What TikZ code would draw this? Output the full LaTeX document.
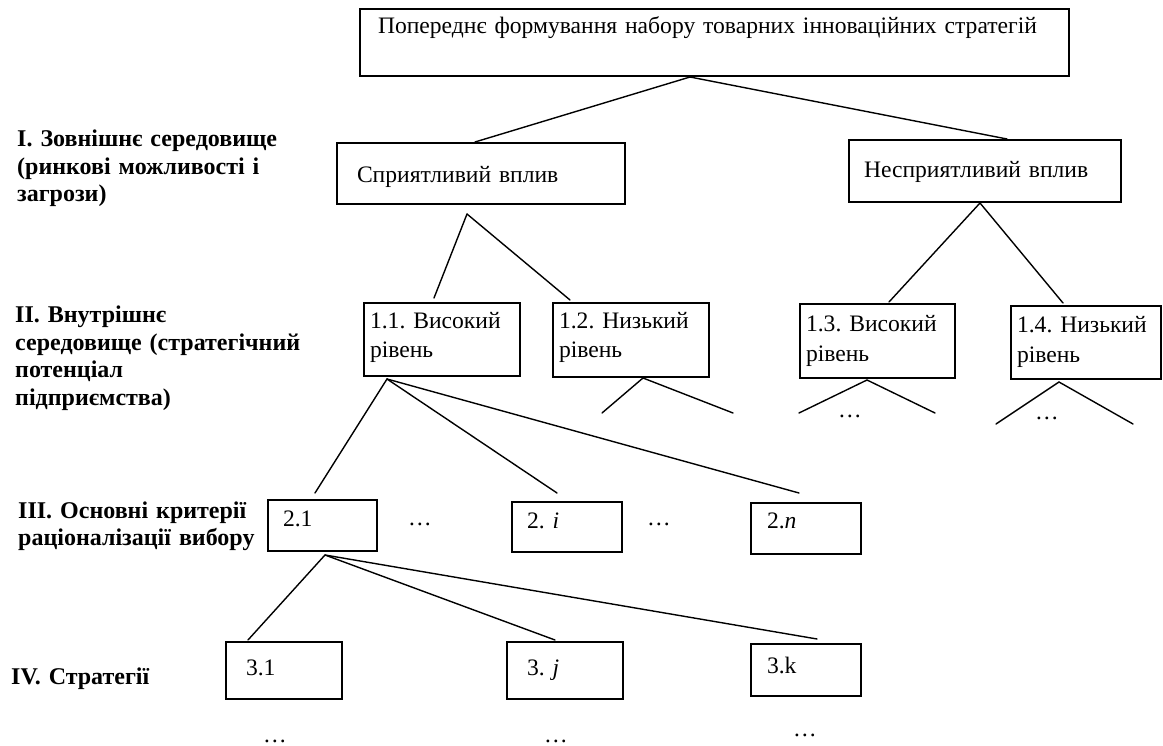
\documentclass[tikz,border=0pt]{standalone}
\usepackage{fontspec}
\setmainfont{Liberation Serif}
\usepackage{tikz}
\usetikzlibrary{calc}
\frenchspacing

\tikzset{
  stratbox/.style={
    draw=black, line width=2pt,
    anchor=north west, align=left,
    inner ysep=0pt,
    font=\fontsize{23.6}{30}\selectfont,
  },
  leveltext/.style={
    anchor=base west, align=left,
    inner sep=0pt, text width=330pt,
    font=\fontsize{24}{27.5}\selectfont\bfseries,
  },
  gapdots/.style={
    anchor=base, inner sep=0pt, text depth=0pt,
    font=\fontsize{23.6}{28}\selectfont,
  },
  link/.style={
    line width=1.4pt, line cap=round,
  },
}

\begin{document}
\begin{tikzpicture}[x=1pt, y=-1pt]
  \useasboundingbox (0,0) rectangle (1163,746);

  % ─── Level labels ─────────────────────────────────────────────────────
  \node[leveltext] (lvlI) at (17,147)
    {I. Зовнішнє середовище\\(ринкові можливості і\\загрози)};
  \node[leveltext] (lvlII) at (15,323)
    {II. Внутрішнє\\середовище (стратегічний\\потенціал\\підприємства)};
  \node[leveltext] (lvlIII) at (18,518)
    {III. Основні критерії\\раціоналізації вибору};
  \node[leveltext] (lvlIV) at (11,684) {IV. Стратегії};

  % ─── Root ─────────────────────────────────────────────────────────────
  \node[stratbox, inner xsep=18pt, text width=673pt,
        text height=25pt, text depth=42pt]
    (top) at (359,8)
    {Попереднє формування набору товарних інноваційних стратегій};

  % ─── Level I: market influence ────────────────────────────────────────
  \node[stratbox, inner xsep=20pt, text width=248pt,
        text height=40pt, text depth=21pt]
    (fav) at (336,142) {Сприятливий вплив};
  \node[stratbox, inner xsep=15pt, text width=242pt,
        text height=38pt, text depth=24pt]
    (unfav) at (848,139) {Несприятливий вплив};

  \coordinate (j0) at ($(top.south west)+(331,0)$);
  \draw[link] (j0) -- ($(fav.north west)+(139,0)$);
  \draw[link] (j0) -- ($(unfav.north west)+(159,0)$);

  % ─── Level II: strategic potential ────────────────────────────────────
  \node[stratbox, inner xsep=6pt, text width=144pt,
        text height=25pt, text depth=48pt]
    (b11) at (363,302) {1.1. Високий\\рівень};
  \node[stratbox, inner xsep=6pt, text width=144pt,
        text height=25pt, text depth=49pt]
    (b12) at (552,302) {1.2. Низький\\рівень};
  \node[stratbox, inner xsep=6pt, text width=143pt,
        text height=27pt, text depth=47pt]
    (b13) at (799,303) {1.3. Високий\\рівень};
  \node[stratbox, inner xsep=6pt, text width=138pt,
        text height=27pt, text depth=46pt]
    (b14) at (1010,305) {1.4. Низький\\рівень};

  \coordinate (j1) at ($(fav.south west)+(131,9)$);
  \draw[link] (j1) -- ($(b11.north west)+(71,-4)$);
  \draw[link] (j1) -- ($(b12.north west)+(18,-2)$);

  \coordinate (j2) at ($(unfav.south west)+(132,0)$);
  \draw[link] (j2) -- ($(b13.north west)+(90,-1)$);
  \draw[link] (j2) -- ($(b14.north west)+(53,-2)$);

  % open branches below 1.2 -- 1.4
  \coordinate (j4) at ($(b12.south west)+(91,0)$);
  \coordinate (t12a) at ($(b12.south west)+(50,35)$);
  \coordinate (t12b) at ($(b12.south west)+(181,35)$);
  \draw[link] (t12a) -- (j4) -- (t12b);

  \coordinate (j5) at ($(b13.south west)+(68,1)$);
  \coordinate (t13a) at ($(b13.south west)+(0,34)$);
  \coordinate (t13b) at ($(b13.south west)+(136,34)$);
  \draw[link] (t13a) -- (j5) -- (t13b);
  \node[gapdots] (d13) at (850,417) {…};

  \coordinate (j6) at ($(b14.south west)+(49,2)$);
  \coordinate (t14a) at ($(b14.south west)+(-14,44)$);
  \coordinate (t14b) at ($(b14.south west)+(123,44)$);
  \draw[link] (t14a) -- (j6) -- (t14b);
  \node[gapdots] (d14) at (1047,419) {…};

  % ─── Level III: selection criteria ────────────────────────────────────
  \node[stratbox, inner xsep=15pt, text width=79pt,
        text height=26pt, text depth=25pt]
    (c21) at (267,499) {2.1};
  \node[stratbox, inner xsep=15pt, text width=80pt,
        text height=26pt, text depth=24pt]
    (c2i) at (511,501) {2. \textit{i}};
  \node[stratbox, inner xsep=16pt, text width=78pt,
        text height=25pt, text depth=26pt]
    (c2n) at (750,502) {2.\textit{n}};
  \node[gapdots] (d2a) at (420,525) {…};
  \node[gapdots] (d2b) at (659,525) {…};

  \coordinate (j3) at ($(b11.south west)+(24,2)$);
  \draw[link] (j3) -- ($(c21.north west)+(48,-6)$);
  \draw[link] (j3) -- ($(c2i.north west)+(46,-8)$);
  \draw[link] (j3) -- ($(c2n.north west)+(49,-9)$);

  % ─── Level IV: strategies ─────────────────────────────────────────────
  \node[stratbox, inner xsep=20pt, text width=76pt,
        text height=33pt, text depth=24pt]
    (s31) at (225,641) {3.1};
  \node[stratbox, inner xsep=20pt, text width=76pt,
        text height=33pt, text depth=24pt]
    (s3j) at (506,641) {3. \textit{j}};
  \node[stratbox, inner xsep=16pt, text width=78pt,
        text height=29pt, text depth=23pt]
    (s3k) at (750,643) {3.k};

  \coordinate (j7) at ($(c21.south west)+(58,3)$);
  \draw[link] (j7) -- ($(s31.north west)+(23,-1)$);
  \draw[link] (j7) -- ($(s3j.north west)+(49,-1)$);
  \draw[link] (j7) -- ($(s3k.north west)+(67,-4)$);

  \node[gapdots] (d31) at (275,742) {…};
  \node[gapdots] (d3j) at (556,742) {…};
  \node[gapdots] (d3k) at (805,736) {…};

\end{tikzpicture}
\end{document}
